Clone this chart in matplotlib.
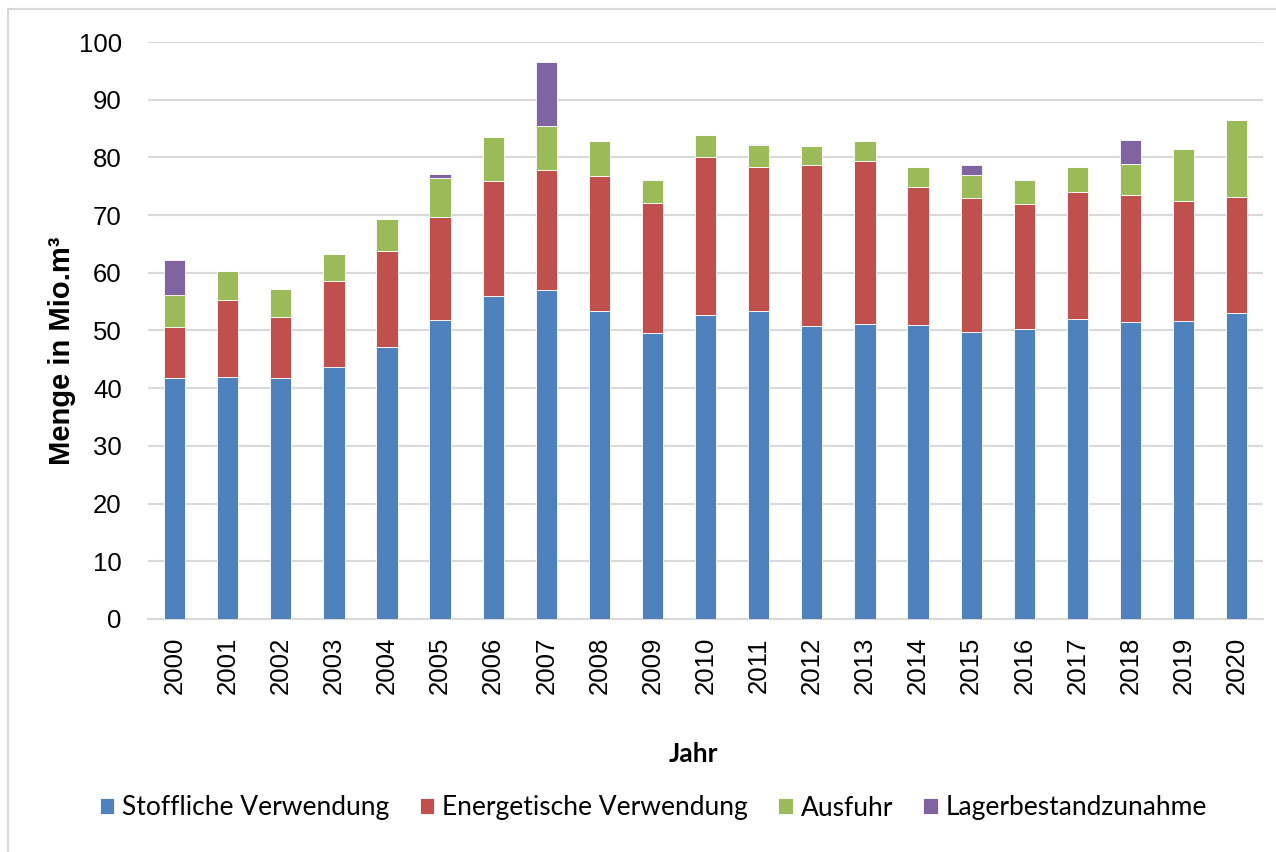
import numpy as np
import matplotlib.pyplot as plt
from matplotlib.lines import Line2D

plt.rcParams['font.family'] = ['Liberation Sans', 'DejaVu Sans']

# Data (Mio. m³)
years = [str(y) for y in range(2000, 2021)]
stofflich = [41.7, 41.9, 41.7, 43.6, 47.1, 51.9, 56.0, 57.1, 53.3, 49.5, 52.6,
             53.4, 50.8, 51.2, 50.9, 49.8, 50.2, 52.0, 51.5, 51.7, 53.1]
energetisch = [8.9, 13.4, 10.7, 15.0, 16.6, 17.7, 19.9, 20.8, 23.5, 22.6, 27.4,
               25.0, 27.8, 28.1, 24.0, 23.2, 21.8, 22.0, 21.9, 20.7, 20.1]
ausfuhr = [5.6, 5.0, 4.8, 4.6, 5.6, 6.9, 7.6, 7.5, 6.0, 4.0, 3.8,
           3.7, 3.4, 3.5, 3.4, 4.0, 4.0, 4.3, 5.5, 9.1, 13.3]
lager = [6.1, 0, 0, 0, 0, 0.7, 0, 11.1, 0, 0, 0,
         0.3, 0, 0, 0, 1.6, 0, 0, 4.1, 0, 0]

series = [
    ("Stoffliche Verwendung", stofflich, "#4F81BD"),
    ("Energetische Verwendung", energetisch, "#C0504D"),
    ("Ausfuhr", ausfuhr, "#9BBB59"),
    ("Lagerbestandzunahme", lager, "#8064A2"),
]

fig = plt.figure(figsize=(12.76, 8.52), dpi=100)
ax = fig.add_axes([0.116, 0.2735, 0.874, 0.6772])

x = np.arange(len(years))
bottom = np.zeros(len(years))
for name, vals, col in series:
    vals = np.array(vals)
    ax.bar(x, vals, width=0.4, bottom=bottom, color=col, label=name,
           edgecolor="white", linewidth=0.6, zorder=3)
    bottom += vals

ax.set_xlim(-0.5, len(years) - 0.5)
ax.set_ylim(0, 100)
ax.set_yticks(range(0, 101, 10))
ax.set_xticks(x)
ax.set_xticklabels(years, rotation=90, fontsize=18.5)
ax.tick_params(axis='y', labelsize=18.5, length=0, pad=19)
ax.tick_params(axis='x', length=0, pad=13)
ax.grid(axis='y', color="#d9d9d9", linewidth=1.5, zorder=0)
for s in ["top", "right", "left"]:
    ax.spines[s].set_visible(False)
ax.spines["bottom"].set_color("#d9d9d9")
ax.spines["bottom"].set_linewidth(1.5)

ax.set_ylabel("Menge in Mio.m³", fontsize=21, fontweight="bold")
ax.yaxis.set_label_coords(-0.065, 0.465)

# x axis title and legend use a Calibri-like face
fig.text(693 / 1276, 1 - 754 / 852, "Jahr", ha="center", va="center",
         fontsize=19, fontweight="bold", family=["Lato", "DejaVu Sans"])

fig.legend(*ax.get_legend_handles_labels(), loc="center",
           bbox_to_anchor=(0.512, 1 - 808 / 852), ncol=4, frameon=False,
           prop={"family": ["Lato", "DejaVu Sans"], "size": 19},
           handlelength=0.55, handleheight=0.55, handletextpad=0.3,
           columnspacing=1.15)

# light chart-area border (left and top edges visible)
fig.add_artist(Line2D([8 / 1276, 8 / 1276], [0, 1 - 9 / 852],
                      transform=fig.transFigure, color="#d9d9d9", linewidth=1.5))
fig.add_artist(Line2D([8 / 1276, 1], [1 - 9 / 852, 1 - 9 / 852],
                      transform=fig.transFigure, color="#d9d9d9", linewidth=1.5))

fig.savefig("out.png", dpi=100)
